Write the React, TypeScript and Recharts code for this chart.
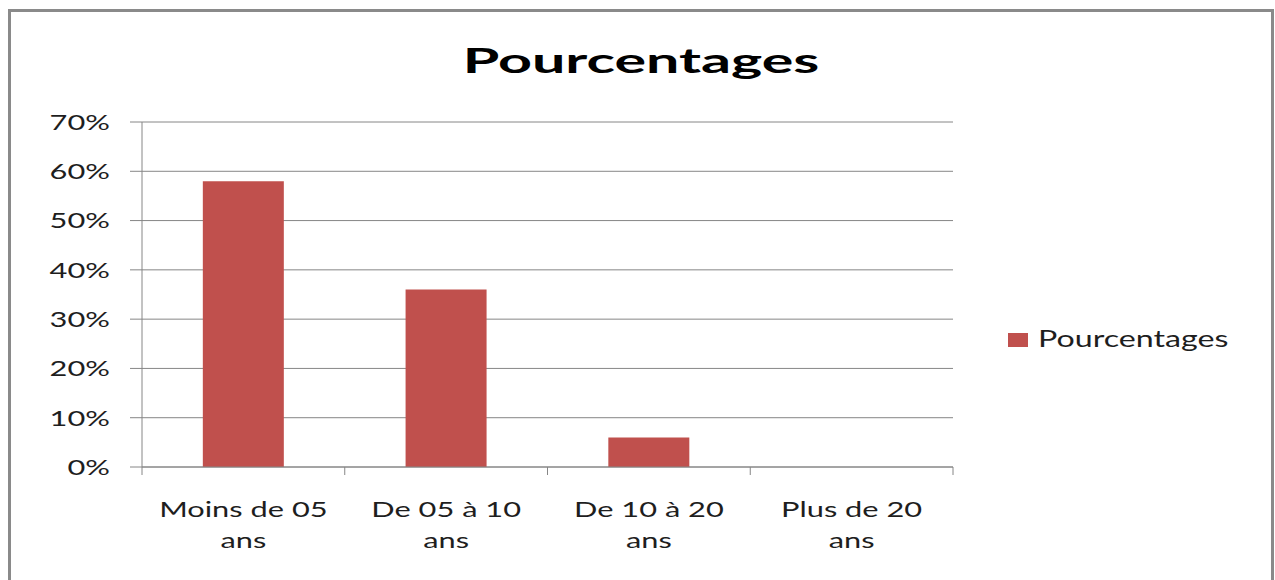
import React from "react";
import { BarChart, Bar, XAxis, YAxis, CartesianGrid } from "recharts";

// Values
const categories = ["Moins de 05 ans", "De 05 à 10 ans", "De 10 à 20 ans", "Plus de 20 ans"];
const pourcentages = [58, 36, 6, 0];
const yTicks = [0, 10, 20, 30, 40, 50, 60, 70];
const seriesName = "Pourcentages";
const title = "Pourcentages";

const data = categories.map((name, i) => ({ name, value: pourcentages[i] }));

const FONT = "Lato, 'Open Sans', sans-serif";
const TEXT = "#1e1e1e";
const LINE = "#868686";
const BAR = "#C0504D";
const SX = 1.4; // the original picture is stretched horizontally
const PLOT_W = 1275 - 322 - 142;

const YTick = (props: any) => {
  const { x, y, payload } = props;
  return (
    <text
      transform={`translate(${x + 2},${y}) scale(${SX},1)`}
      textAnchor="end"
      dy="0.36em"
      fontFamily={FONT}
      fontSize={22}
      fill={TEXT}
    >
      {payload.value}%
    </text>
  );
};

// category label on two lines + tick marks on the category boundaries
const XTick = (props: any) => {
  const { x, y, payload, index } = props;
  const half = payload && payload.offset ? payload.offset : PLOT_W / categories.length / 2;
  const s = String(payload.value);
  const k = s.lastIndexOf(" ");
  const lines = [s.slice(0, k), s.slice(k + 1)];
  const last = index === categories.length - 1;
  return (
    <g transform={`translate(${x},${y})`}>
      <line x1={-half} x2={-half} y1={0} y2={8} stroke={LINE} />
      {last && <line x1={half} x2={half} y1={0} y2={8} stroke={LINE} />}
      {lines.map((l, i) => (
        <text
          key={i}
          transform={`translate(0,${50 + i * 31}) scale(${SX},1)`}
          textAnchor="middle"
          fontFamily={FONT}
          fontSize={22}
          fill={TEXT}
        >
          {l}
        </text>
      ))}
    </g>
  );
};

export default function App() {
  return (
    <div style={{ position: "absolute", left: 0, top: 0, width: 1275, height: 580, overflow: "hidden", background: "#fff" }}>
      <div
        style={{
          position: "absolute",
          left: 8,
          top: 9,
          width: 1266,
          height: 620,
          border: "3px solid #8a8a8a",
          boxSizing: "border-box",
        }}
      />
      <div style={{ position: "absolute", left: 0, top: 0 }}>
        <BarChart
          width={1275}
          height={580}
          data={data}
          margin={{ top: 122, right: 322, bottom: 0, left: 0 }}
          barCategoryGap="30%"
        >
          <CartesianGrid vertical={false} stroke={LINE} />
          <XAxis
            dataKey="name"
            stroke={LINE}
            tickLine={false}
            tickSize={0}
            tickMargin={0}
            interval={0}
            height={113}
            tick={<XTick />}
          />
          <YAxis
            width={142}
            domain={[0, 70]}
            ticks={yTicks}
            tickSize={12}
            tickMargin={22}
            stroke={LINE}
            tick={<YTick />}
          />
          <Bar dataKey="value" name={seriesName} fill={BAR} isAnimationActive={false} />
        </BarChart>
      </div>
      <svg width={1275} height={580} style={{ position: "absolute", left: 0, top: 0, pointerEvents: "none" }}>
        <text
          transform="translate(641,73) scale(1.74,1)"
          textAnchor="middle"
          fontFamily={FONT}
          fontWeight="bold"
          fontSize={34}
          fill="#000"
        >
          {title}
        </text>
        <rect x={1008} y={333} width={20} height={14} fill={BAR} />
        <text transform="translate(1038,347) scale(1.4,1)" fontFamily={FONT} fontSize={23} fill={TEXT}>
          {seriesName}
        </text>
      </svg>
    </div>
  );
}
